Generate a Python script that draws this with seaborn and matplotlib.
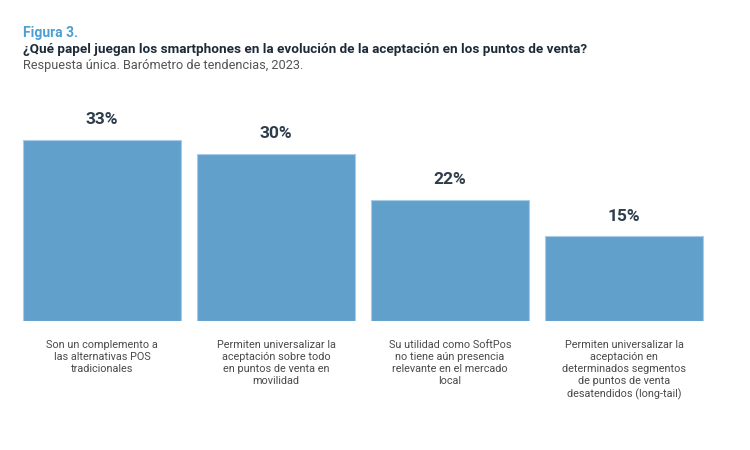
import matplotlib
matplotlib.use("Agg")
import matplotlib.pyplot as plt
import seaborn as sns
import pandas as pd

# data
categories = [
    "Son un complemento a\nlas alternativas POS\ntradicionales",
    "Permiten universalizar la\naceptación sobre todo\nen puntos de venta en\nmovilidad",
    "Su utilidad como SoftPos\nno tiene aún presencia\nrelevante en el mercado\nlocal",
    "Permiten universalizar la\naceptación en\ndeterminados segmentos\nde puntos de venta\ndesatendidos (long-tail)",
]
values = [33, 30.4, 22, 15.4]
value_labels = ["33%", "30%", "22%", "15%"]

fig_title = "Figura 3."
title = "¿Qué papel juegan los smartphones en la evolución de la aceptación en los puntos de venta?"
subtitle = "Respuesta única. Barómetro de tendencias, 2023."

sns.set_theme(style="white")
plt.rcParams["font.family"] = ["Roboto", "DejaVu Sans"]

df = pd.DataFrame({"cat": categories, "val": values})

fig = plt.figure(figsize=(7.5, 4.5), dpi=100)
ax = fig.add_axes([15 / 750, 1 - 321 / 450, 696 / 750, 221 / 450])

sns.barplot(data=df, x="cat", y="val", color="#62a0cc", saturation=1,
            width=0.91, edgecolor="#a9cbe6", linewidth=0.8, ax=ax)

ax.set_xlim(-0.5, 3.5)
ax.set_ylim(0, 221 / 5.5)
ax.set_xlabel("")
ax.set_ylabel("")
ax.set_yticks([])
ax.set_xticks([])
sns.despine(ax=ax, left=True, bottom=True)

for i, (v, lab) in enumerate(zip(values, value_labels)):
    ax.text(i, v + 2.3, lab, ha="center", va="bottom", fontsize=12.5,
            fontweight="bold", color="#2e3d4c")

for i, c in enumerate(categories):
    ax.annotate(c, xy=(i, 0), xycoords="data", xytext=(0, -14),
                textcoords="offset points", ha="center", va="top",
                fontsize=7.8, color="#4a4a4a", linespacing=1.25)

fig.text(23 / 750, 1 - 33 / 450, fig_title, fontsize=10, fontweight="bold",
         color="#4b9fd5", va="center", ha="left")
fig.text(23 / 750, 1 - 49 / 450, title, fontsize=9.7, fontweight="bold",
         color="#1d2b38", va="center", ha="left")
fig.text(23 / 750, 1 - 66 / 450, subtitle, fontsize=9.2, color="#555555",
         va="center", ha="left")

fig.savefig("out.png", dpi=100)
